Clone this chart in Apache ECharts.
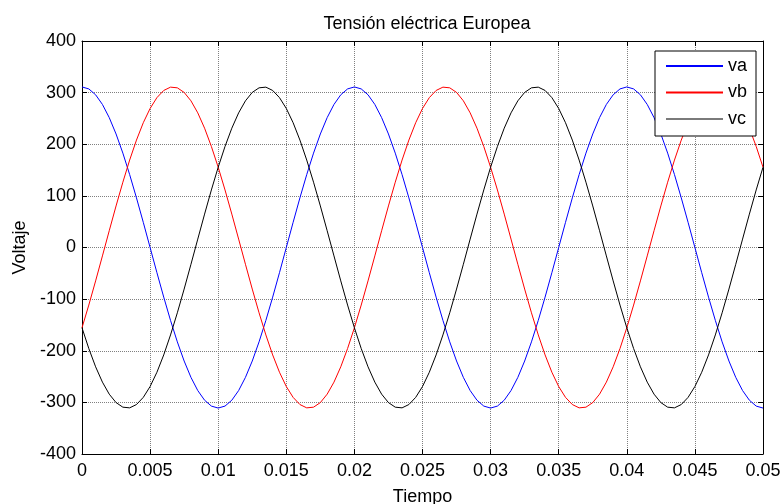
<!DOCTYPE html>
<html>
<head>
<meta charset="utf-8">
<script src="https://cdn.jsdelivr.net/npm/echarts@6/dist/echarts.min.js"></script>
<style>html,body{margin:0;padding:0;background:#fff}#c{width:782px;height:504px}</style>
</head>
<body>
<div id="c"></div>
<script>
var titleText = 'Tensión eléctrica Europea';
var xName = 'Tiempo';
var yName = 'Voltaje';
var seriesNames = ['va', 'vb', 'vc'];
var xTicks = [0, 0.005, 0.01, 0.015, 0.02, 0.025, 0.03, 0.035, 0.04, 0.045, 0.05];
var yTicks = [-400, -300, -200, -100, 0, 100, 200, 300, 400];

var times = [
0,0.0005,0.001,0.0015,0.002,0.0025,0.003,0.0035,0.004,0.0045,
0.005,0.0055,0.006,0.0065,0.007,0.0075,0.008,0.0085,0.009,0.0095,
0.01,0.0105,0.011,0.0115,0.012,0.0125,0.013,0.0135,0.014,0.0145,
0.015,0.0155,0.016,0.0165,0.017,0.0175,0.018,0.0185,0.019,0.0195,
0.02,0.0205,0.021,0.0215,0.022,0.0225,0.023,0.0235,0.024,0.0245,
0.025,0.0255,0.026,0.0265,0.027,0.0275,0.028,0.0285,0.029,0.0295,
0.03,0.0305,0.031,0.0315,0.032,0.0325,0.033,0.0335,0.034,0.0345,
0.035,0.0355,0.036,0.0365,0.037,0.0375,0.038,0.0385,0.039,0.0395,
0.04,0.0405,0.041,0.0415,0.042,0.0425,0.043,0.0435,0.044,0.0445,
0.045,0.0455,0.046,0.0465,0.047,0.0475,0.048,0.0485,0.049,0.0495,
0.05];

var va = [
311,307.2,295.8,277.1,251.6,219.9,182.8,141.2,96.1,48.7,
0,-48.7,-96.1,-141.2,-182.8,-219.9,-251.6,-277.1,-295.8,-307.2,
-311,-307.2,-295.8,-277.1,-251.6,-219.9,-182.8,-141.2,-96.1,-48.7,
0,48.7,96.1,141.2,182.8,219.9,251.6,277.1,295.8,307.2,
311,307.2,295.8,277.1,251.6,219.9,182.8,141.2,96.1,48.7,
0,-48.7,-96.1,-141.2,-182.8,-219.9,-251.6,-277.1,-295.8,-307.2,
-311,-307.2,-295.8,-277.1,-251.6,-219.9,-182.8,-141.2,-96.1,-48.7,
0,48.7,96.1,141.2,182.8,219.9,251.6,277.1,295.8,307.2,
311,307.2,295.8,277.1,251.6,219.9,182.8,141.2,96.1,48.7,
0,-48.7,-96.1,-141.2,-182.8,-219.9,-251.6,-277.1,-295.8,-307.2,
-311];

var vb = [
-155.5,-111.5,-64.7,-16.3,32.5,80.5,126.5,169.4,208.1,241.7,
269.3,290.3,304.2,310.6,309.3,300.4,284.1,260.8,231.1,195.7,
155.5,111.5,64.7,16.3,-32.5,-80.5,-126.5,-169.4,-208.1,-241.7,
-269.3,-290.3,-304.2,-310.6,-309.3,-300.4,-284.1,-260.8,-231.1,-195.7,
-155.5,-111.5,-64.7,-16.3,32.5,80.5,126.5,169.4,208.1,241.7,
269.3,290.3,304.2,310.6,309.3,300.4,284.1,260.8,231.1,195.7,
155.5,111.5,64.7,16.3,-32.5,-80.5,-126.5,-169.4,-208.1,-241.7,
-269.3,-290.3,-304.2,-310.6,-309.3,-300.4,-284.1,-260.8,-231.1,-195.7,
-155.5,-111.5,-64.7,-16.3,32.5,80.5,126.5,169.4,208.1,241.7,
269.3,290.3,304.2,310.6,309.3,300.4,284.1,260.8,231.1,195.7,
155.5];

var vc = [
-155.5,-195.7,-231.1,-260.8,-284.1,-300.4,-309.3,-310.6,-304.2,-290.3,
-269.3,-241.7,-208.1,-169.4,-126.5,-80.5,-32.5,16.3,64.7,111.5,
155.5,195.7,231.1,260.8,284.1,300.4,309.3,310.6,304.2,290.3,
269.3,241.7,208.1,169.4,126.5,80.5,32.5,-16.3,-64.7,-111.5,
-155.5,-195.7,-231.1,-260.8,-284.1,-300.4,-309.3,-310.6,-304.2,-290.3,
-269.3,-241.7,-208.1,-169.4,-126.5,-80.5,-32.5,16.3,64.7,111.5,
155.5,195.7,231.1,260.8,284.1,300.4,309.3,310.6,304.2,290.3,
269.3,241.7,208.1,169.4,126.5,80.5,32.5,-16.3,-64.7,-111.5,
-155.5,-195.7,-231.1,-260.8,-284.1,-300.4,-309.3,-310.6,-304.2,-290.3,
-269.3,-241.7,-208.1,-169.4,-126.5,-80.5,-32.5,16.3,64.7,111.5,
155.5];

var colors = ['#0000ff', '#ff0000', '#000000'];
var FONT = '"Liberation Sans", Arial, sans-serif';

function pairs(ys) { return times.map(function (t, i) { return [t, ys[i]]; }); }

var xStep = xTicks[1] - xTicks[0];
var yStep = yTicks[1] - yTicks[0];

function xAxisCfg(pos, show) {
  return {
    type: 'value', position: pos,
    min: xTicks[0], max: xTicks[xTicks.length - 1], interval: xStep,
    axisLine: { show: true, onZero: false, lineStyle: { color: '#000', width: 1 } },
    axisTick: { show: true, inside: true, length: 5, lineStyle: { color: '#000' } },
    axisLabel: { show: show, color: '#000', fontSize: 18, fontFamily: FONT, margin: 8, hideOverlap: false },
    splitLine: { show: show, lineStyle: { color: '#808080', type: [1, 1], width: 1 } },
    name: show ? xName : '', nameLocation: 'middle', nameGap: 34,
    nameTextStyle: { color: '#000', fontSize: 18, fontFamily: FONT }
  };
}
function yAxisCfg(pos, show) {
  return {
    type: 'value', position: pos,
    min: yTicks[0], max: yTicks[yTicks.length - 1], interval: yStep,
    axisLine: { show: true, onZero: false, lineStyle: { color: '#000', width: 1 } },
    axisTick: { show: true, inside: true, length: 5, lineStyle: { color: '#000' } },
    axisLabel: { show: show, color: '#000', fontSize: 18, fontFamily: FONT, margin: 6 },
    splitLine: { show: show, lineStyle: { color: '#808080', type: [1, 1], width: 1 } },
    name: show ? yName : '', nameLocation: 'middle', nameGap: 53,
    nameTextStyle: { color: '#000', fontSize: 18, fontFamily: FONT }
  };
}

var chart = echarts.init(document.getElementById('c'), null, { renderer: 'canvas' });
chart.setOption({
  animation: false,
  backgroundColor: '#fff',
  title: {
    text: titleText, left: 422, top: 10, textAlign: 'center',
    textStyle: { color: '#000', fontSize: 18, fontWeight: 'normal', fontFamily: FONT }
  },
  grid: { left: 82, right: 19, top: 41, bottom: 50, containLabel: false, outerBoundsMode: 'none' },
  xAxis: [xAxisCfg('bottom', true), xAxisCfg('top', false)],
  yAxis: [yAxisCfg('left', true), yAxisCfg('right', false)],
  legend: {
    orient: 'vertical', left: 655, top: 51,
    backgroundColor: '#fff', borderColor: '#000', borderWidth: 1, borderRadius: 0,
    padding: [6, 9, 8, 11], itemGap: 8.5, itemWidth: 57, itemHeight: 2,
    icon: 'rect',
    textStyle: { color: '#000', fontSize: 18, fontFamily: FONT },
    data: [
      { name: seriesNames[0], itemStyle: { color: colors[0] } },
      { name: seriesNames[1], itemStyle: { color: colors[1] } },
      { name: seriesNames[2], itemStyle: { color: '#7a7a7a' } }
    ],
    z: 10
  },
  series: [va, vb, vc].map(function (ys, i) {
    return {
      name: seriesNames[i], type: 'line', xAxisIndex: 0, yAxisIndex: 0,
      data: pairs(ys), showSymbol: false, symbol: 'none', smooth: false,
      color: colors[i],
      lineStyle: { color: colors[i], width: 1 }
    };
  })
});
</script>
</body>
</html>
